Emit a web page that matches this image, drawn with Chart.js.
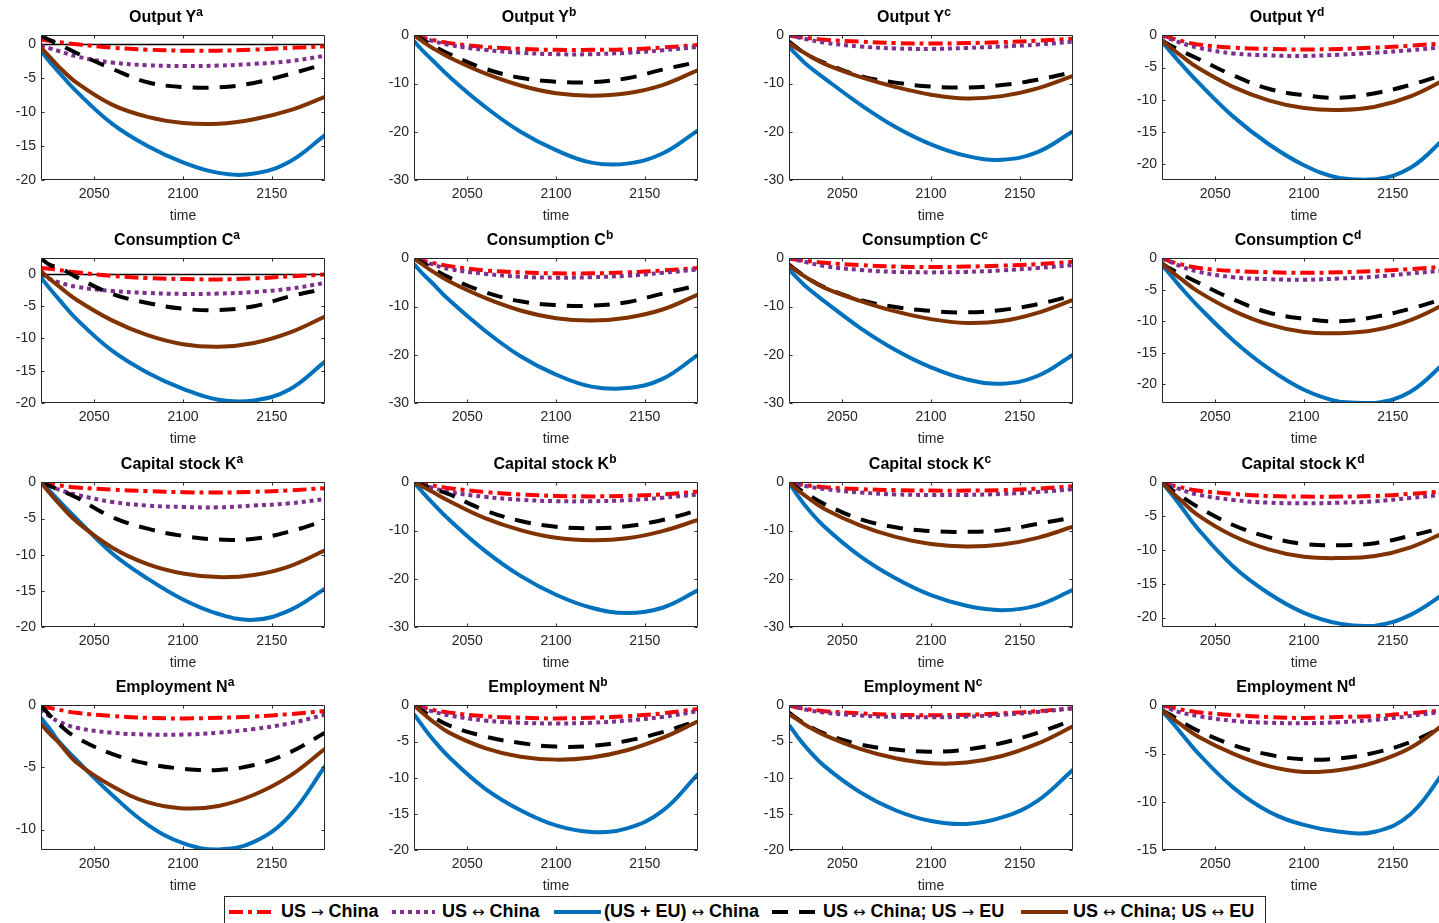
<!DOCTYPE html>
<html>
<head>
<meta charset="utf-8">
<script src="https://cdn.jsdelivr.net/npm/chart.js@4.4.1/dist/chart.umd.min.js"></script>
<style>
  html, body { margin: 0; padding: 0; background: #fff; width: 1439px; height: 923px; overflow: hidden;
    font-family: "Liberation Sans", Arial, Helvetica, sans-serif; }
  .panel { position: absolute; }
  .ttl { position: absolute; width: 300px; text-align: center; font-weight: bold; font-size: 16px;
    line-height: 18px; color: #000; white-space: nowrap; }
  .ttl sup { font-size: 12px; line-height: 0; }
  #legend { position: absolute; left: 224px; top: 896px; width: 1042px; height: 40px; box-sizing: border-box;
    border: 1px solid #262626; background: #fff; }
  #legend svg { position: absolute; left: 0; top: 0; }
  #legend span.lt { position: absolute; top: 4px; font-weight: bold; font-size: 18px; line-height: 21px; color: #000; white-space: nowrap; }
  #legend span.ar { font-family: "DejaVu Sans", sans-serif; font-weight: normal; font-size: 15px; }
</style>
</head>
<body>
<div id="legend"></div>
<script>
// Impulse responses, 4x4 panels (rows: Y, C, K, N; columns: a-d)

const years = [2020, 2025, 2030, 2040, 2060, 2080, 2100, 2120, 2140, 2160, 2180];
const xTicks = [2050, 2100, 2150];
const ticks5 = [-20, -15, -10, -5, 0];
const ticks10 = [-30, -20, -10, 0];
const ticksEmpA = [-10, -5, 0];
const ticksEmpD = [-15, -10, -5, 0];

const seriesLabels = ['US \u2192 China', 'US \u2194 China', '(US + EU) \u2194 China',
  'US \u2194 China; US \u2192 EU', 'US \u2194 China; US \u2194 EU'];

// series order in each panel: red, purple, blue, black, brown
const outputA = [
  [0.7, 0.5, 0.3, 0.0, -0.5, -0.8, -0.95, -0.95, -0.8, -0.55, -0.3],
  [-0.2, -0.6, -1.0, -1.8, -2.7, -3.1, -3.2, -3.15, -2.9, -2.5, -1.7],
  [-1.0, -2.6, -4.1, -6.95, -11.7, -15.0, -17.4, -18.95, -19.05, -17.3, -13.4],
  [1.3, 0.6, 0.0, -1.3, -3.6, -5.6, -6.3, -6.35, -5.7, -4.4, -2.9],
  [-0.5, -1.9, -3.3, -5.65, -8.9, -10.7, -11.6, -11.72, -11.05, -9.75, -7.75]
];
const outputB = [
  [0, -0.5, -0.9, -1.6, -2.4, -2.8, -3.0, -3.0, -2.9, -2.5, -2.0],
  [0, -0.6, -1.1, -2.0, -3.0, -3.6, -3.9, -3.9, -3.6, -3.1, -2.4],
  [-1.2, -3.2, -5.0, -8.6, -14.8, -20.0, -23.8, -26.4, -26.6, -24.5, -19.7],
  [0, -0.9, -2.0, -3.9, -6.9, -8.8, -9.6, -9.7, -8.9, -7.1, -5.5],
  [0, -1.3, -2.5, -4.6, -7.9, -10.4, -12.0, -12.5, -12.0, -10.3, -7.2]
];
const outputC = [
  [0, -0.3, -0.5, -0.9, -1.3, -1.6, -1.7, -1.6, -1.4, -1.1, -0.7],
  [0, -0.4, -0.8, -1.5, -2.3, -2.7, -2.8, -2.6, -2.3, -1.9, -1.3],
  [-2.4, -4.3, -6.1, -8.9, -14.3, -19.0, -22.6, -25.0, -25.8, -24.2, -19.9],
  [-1.3, -2.7, -4.0, -5.7, -8.4, -9.8, -10.6, -10.8, -10.3, -9.2, -7.6],
  [-1.6, -2.8, -3.9, -5.9, -8.6, -10.7, -12.3, -13.1, -12.6, -11.0, -8.4]
];
const outputD = [
  [0, -0.4, -0.8, -1.4, -1.9, -2.1, -2.2, -2.1, -1.9, -1.6, -1.2],
  [0, -0.6, -1.1, -1.9, -2.8, -3.1, -3.2, -3.0, -2.7, -2.3, -1.8],
  [-1.0, -2.6, -4.2, -7.2, -12.6, -16.9, -20.2, -22.2, -22.4, -20.6, -15.8],
  [-0.8, -1.6, -2.3, -3.6, -6.2, -8.3, -9.3, -9.7, -9.0, -7.7, -6.0],
  [-0.8, -1.9, -3.0, -5.0, -8.0, -10.1, -11.3, -11.6, -11.1, -9.5, -6.8]
];
const consA = [
  [0.9, 0.8, 0.6, 0.25, -0.3, -0.65, -0.8, -0.85, -0.7, -0.4, -0.1],
  [-0.2, -0.8, -1.3, -2.0, -2.65, -2.95, -3.1, -3.05, -2.8, -2.3, -1.4],
  [-0.6, -2.3, -3.9, -7.0, -11.9, -15.3, -17.8, -19.5, -19.6, -17.9, -13.6],
  [2.4, 1.4, 1.0, -0.5, -3.1, -4.5, -5.4, -5.6, -5.0, -3.5, -2.3],
  [0.4, -0.8, -1.9, -4.0, -7.2, -9.5, -10.9, -11.3, -10.7, -9.1, -6.6]
];
const consB = [
  [0, -0.5, -0.9, -1.6, -2.5, -2.9, -3.1, -3.1, -2.9, -2.5, -2.0],
  [0, -0.6, -1.2, -2.2, -3.2, -3.8, -4.0, -3.9, -3.6, -3.0, -2.3],
  [-1.2, -3.2, -5.0, -8.7, -15.0, -20.3, -24.1, -26.6, -26.9, -25.0, -20.0],
  [0, -0.9, -2.0, -4.0, -7.0, -8.9, -9.7, -9.8, -9.1, -7.3, -5.6],
  [0, -1.3, -2.6, -4.8, -8.2, -10.8, -12.4, -12.9, -12.3, -10.6, -7.5]
];
const consC = [
  [0, -0.3, -0.5, -0.9, -1.4, -1.7, -1.8, -1.7, -1.5, -1.2, -0.7],
  [0, -0.4, -0.8, -1.6, -2.4, -2.8, -2.9, -2.8, -2.5, -2.0, -1.4],
  [-2.3, -4.2, -6.0, -8.9, -14.4, -19.0, -22.6, -25.1, -26.0, -24.4, -20.0],
  [-1.3, -2.7, -4.0, -6.0, -8.6, -10.1, -10.9, -11.2, -10.7, -9.5, -7.7],
  [-1.5, -2.8, -4.0, -6.1, -8.8, -11.0, -12.6, -13.4, -13.0, -11.3, -8.6]
];
const consD = [
  [0, -0.5, -0.9, -1.5, -2.0, -2.2, -2.3, -2.2, -2.0, -1.7, -1.3],
  [0, -0.6, -1.2, -2.1, -3.0, -3.3, -3.4, -3.2, -2.9, -2.4, -1.9],
  [-1.1, -2.7, -4.4, -7.5, -13.0, -17.5, -20.9, -22.8, -23.0, -21.2, -16.4],
  [-0.8, -1.7, -2.4, -3.8, -6.5, -8.6, -9.6, -10.0, -9.3, -8.0, -6.3],
  [-0.8, -2.0, -3.1, -5.2, -8.3, -10.5, -11.7, -11.9, -11.4, -9.8, -7.2]
];
const capA = [
  [0, -0.2, -0.4, -0.7, -1.0, -1.2, -1.35, -1.4, -1.3, -1.1, -0.8],
  [0, -0.5, -1.0, -1.7, -2.7, -3.2, -3.4, -3.45, -3.2, -2.9, -2.3],
  [0, -1.2, -2.5, -5.0, -9.8, -13.3, -16.2, -18.2, -19.0, -17.7, -14.7],
  [0, -0.5, -1.0, -2.1, -4.8, -6.4, -7.4, -7.9, -7.8, -6.8, -5.3],
  [0, -1.5, -2.9, -5.4, -9.0, -11.3, -12.6, -13.1, -12.8, -11.6, -9.4]
];
const capB = [
  [0, -0.3, -0.6, -1.2, -2.0, -2.5, -2.8, -2.9, -2.8, -2.5, -1.9],
  [0, -0.6, -1.1, -2.0, -3.0, -3.6, -3.9, -3.9, -3.7, -3.2, -2.5],
  [0, -2.1, -4.1, -7.8, -14.2, -19.4, -23.3, -26.0, -27.1, -26.0, -22.4],
  [0, -0.6, -1.2, -2.5, -5.8, -8.0, -9.2, -9.5, -9.1, -7.8, -5.8],
  [0, -0.9, -1.9, -3.9, -7.4, -9.9, -11.5, -12.0, -11.6, -10.1, -7.8]
];
const capC = [
  [0, -0.3, -0.6, -1.0, -1.4, -1.6, -1.7, -1.7, -1.6, -1.3, -0.8],
  [0, -0.4, -0.8, -1.4, -2.1, -2.5, -2.6, -2.6, -2.4, -2.0, -1.4],
  [0, -2.8, -5.2, -9.2, -15.3, -19.9, -23.4, -25.6, -26.5, -25.5, -22.3],
  [0, -1.2, -2.4, -4.5, -7.6, -9.3, -10.1, -10.25, -9.9, -8.6, -7.3],
  [0, -1.6, -3.0, -5.5, -8.9, -11.3, -12.8, -13.3, -12.9, -11.5, -9.2]
];
const capD = [
  [0, -0.4, -0.7, -1.2, -1.7, -2.0, -2.1, -2.1, -2.0, -1.7, -1.3],
  [0, -0.5, -1.0, -1.8, -2.6, -3.0, -3.1, -3.0, -2.8, -2.3, -1.8],
  [0, -1.6, -3.3, -6.8, -12.4, -16.4, -19.3, -20.9, -21.2, -19.6, -16.3],
  [0, -1.0, -1.9, -3.6, -6.3, -8.1, -9.1, -9.3, -9.0, -7.9, -6.6],
  [0, -1.3, -2.5, -4.8, -7.9, -9.9, -11.0, -11.2, -10.9, -9.6, -7.3]
];
const empA = [
  [0, -0.2, -0.35, -0.6, -0.85, -1.0, -1.05, -1.0, -0.9, -0.7, -0.45],
  [-0.3, -0.9, -1.3, -1.8, -2.2, -2.35, -2.35, -2.2, -1.9, -1.45, -0.75],
  [-1.0, -1.9, -2.9, -4.4, -7.2, -9.6, -11.1, -11.6, -11.0, -8.9, -4.9],
  [0, -0.8, -1.5, -2.6, -3.9, -4.7, -5.1, -5.2, -4.8, -3.8, -2.2],
  [-1.5, -2.3, -3.0, -4.6, -6.5, -7.8, -8.3, -8.1, -7.2, -5.7, -3.5]
];
const empB = [
  [0, -0.3, -0.6, -1.0, -1.5, -1.7, -1.8, -1.7, -1.5, -1.1, -0.5],
  [0, -0.4, -0.8, -1.4, -2.1, -2.4, -2.5, -2.4, -2.1, -1.6, -0.8],
  [-1.2, -2.9, -4.5, -7.2, -11.5, -14.5, -16.6, -17.5, -17.0, -14.6, -9.5],
  [0, -0.8, -1.5, -2.8, -4.3, -5.2, -5.7, -5.6, -4.9, -3.7, -2.1],
  [0, -1.1, -2.1, -3.8, -5.9, -7.1, -7.5, -7.2, -6.2, -4.5, -2.2]
];
const empC = [
  [0, -0.3, -0.5, -0.8, -1.1, -1.3, -1.35, -1.3, -1.1, -0.8, -0.4],
  [0, -0.3, -0.6, -1.0, -1.4, -1.6, -1.65, -1.55, -1.3, -0.9, -0.4],
  [-2.7, -4.4, -5.9, -8.4, -12.0, -14.5, -16.0, -16.4, -15.5, -13.2, -8.9],
  [-1.0, -1.9, -2.7, -3.9, -5.4, -6.1, -6.4, -6.1, -5.2, -3.8, -2.0],
  [-1.2, -2.0, -2.8, -4.1, -6.0, -7.3, -8.0, -7.9, -7.0, -5.3, -2.9]
];
const empD = [
  [0, -0.2, -0.4, -0.7, -1.0, -1.2, -1.3, -1.2, -1.1, -0.8, -0.5],
  [0, -0.4, -0.7, -1.1, -1.6, -1.8, -1.85, -1.75, -1.5, -1.1, -0.6],
  [-0.6, -1.6, -2.7, -4.9, -8.5, -11.0, -12.4, -13.1, -13.1, -11.3, -6.6],
  [-0.5, -1.0, -1.6, -2.6, -4.1, -5.1, -5.6, -5.5, -4.9, -3.8, -2.1],
  [-0.5, -1.2, -1.9, -3.2, -5.0, -6.3, -6.9, -6.7, -5.9, -4.4, -1.8]
];

const panels = [
  { title: 'Output Y', sup: 'a', data: outputA, yMin: -20, yMax: 1.3, yTicks: ticks5 },
  { title: 'Output Y', sup: 'b', data: outputB, yMin: -30, yMax: 0, yTicks: ticks10 },
  { title: 'Output Y', sup: 'c', data: outputC, yMin: -30, yMax: 0, yTicks: ticks10 },
  { title: 'Output Y', sup: 'd', data: outputD, yMin: -22.5, yMax: 0, yTicks: ticks5 },
  { title: 'Consumption C', sup: 'a', data: consA, yMin: -20, yMax: 2.4, yTicks: ticks5 },
  { title: 'Consumption C', sup: 'b', data: consB, yMin: -30, yMax: 0, yTicks: ticks10 },
  { title: 'Consumption C', sup: 'c', data: consC, yMin: -30, yMax: 0, yTicks: ticks10 },
  { title: 'Consumption C', sup: 'd', data: consD, yMin: -23, yMax: 0, yTicks: ticks5 },
  { title: 'Capital stock K', sup: 'a', data: capA, yMin: -20, yMax: 0, yTicks: ticks5 },
  { title: 'Capital stock K', sup: 'b', data: capB, yMin: -30, yMax: 0, yTicks: ticks10 },
  { title: 'Capital stock K', sup: 'c', data: capC, yMin: -30, yMax: 0, yTicks: ticks10 },
  { title: 'Capital stock K', sup: 'd', data: capD, yMin: -21.4, yMax: 0, yTicks: ticks5 },
  { title: 'Employment N', sup: 'a', data: empA, yMin: -11.65, yMax: 0, yTicks: ticksEmpA },
  { title: 'Employment N', sup: 'b', data: empB, yMin: -20, yMax: 0, yTicks: ticks5 },
  { title: 'Employment N', sup: 'c', data: empC, yMin: -20, yMax: 0, yTicks: ticks5 },
  { title: 'Employment N', sup: 'd', data: empD, yMin: -15, yMax: 0, yTicks: ticksEmpD }
];

// styles
const seriesColors = ['#ff0000', '#7e2f8e', '#0072bd', '#000000', '#803300'];
const seriesDashes = [[14, 5, 4, 5], [4, 4], [], [16, 11], []];
const axisColor = '#262626';

// layout (px)
const colLeft = [41, 414, 789, 1162];
const rowTop = [32, 255, 479, 702];
const plotW = 284, plotH = 148;
const padL = 50, padT = 10, padR = 12, padB = 50;
const titleCenter = [125, 136, 141, 134];

Chart.defaults.font.family = '"Liberation Sans", Arial, Helvetica, sans-serif';
Chart.defaults.color = axisColor;

const frame = {
  id: 'frame',
  beforeDatasetsDraw(chart) {
    const { ctx, chartArea: a, scales: { y } } = chart;
    if (y.max > 0) {
      const py = Math.round(y.getPixelForValue(0)) + 0.5;
      ctx.save();
      ctx.strokeStyle = '#000';
      ctx.lineWidth = 1.5;
      ctx.beginPath();
      ctx.moveTo(a.left, py);
      ctx.lineTo(a.right, py);
      ctx.stroke();
      ctx.restore();
    }
  },
  afterDatasetsDraw(chart) {
    const { ctx, chartArea: a, scales: { x, y } } = chart;
    const L = Math.round(a.left) + 0.5, R = Math.round(a.right) - 0.5;
    const T = Math.round(a.top) + 0.5, B = Math.round(a.bottom) - 0.5;
    ctx.save();
    ctx.strokeStyle = axisColor;
    ctx.lineWidth = 1;
    ctx.beginPath();
    ctx.rect(L, T, R - L, B - T);
    x.ticks.forEach(t => {
      const px = Math.round(x.getPixelForValue(t.value)) + 0.5;
      ctx.moveTo(px, B); ctx.lineTo(px, B - 3);
      ctx.moveTo(px, T); ctx.lineTo(px, T + 3);
    });
    y.ticks.forEach(t => {
      const py = Math.round(y.getPixelForValue(t.value)) + 0.5;
      ctx.moveTo(L, py); ctx.lineTo(L + 3, py);
      ctx.moveTo(R, py); ctx.lineTo(R - 3, py);
    });
    ctx.stroke();
    ctx.restore();
  }
};

panels.forEach((p, i) => {
  const r = Math.floor(i / 4), c = i % 4;
  const box = document.createElement('div');
  box.className = 'panel';
  box.style.left = (colLeft[c] - padL) + 'px';
  box.style.top = (rowTop[r] - padT) + 'px';
  box.style.width = (plotW + padL + padR) + 'px';
  box.style.height = (plotH + padT + padB) + 'px';
  const cv = document.createElement('canvas');
  box.appendChild(cv);
  document.body.appendChild(box);

  const ttl = document.createElement('div');
  ttl.className = 'ttl';
  ttl.style.left = (colLeft[c] + titleCenter[r] - 150) + 'px';
  ttl.style.top = (rowTop[r] - 24) + 'px';
  ttl.innerHTML = p.title + '<sup>' + p.sup + '</sup>';
  document.body.appendChild(ttl);

  new Chart(cv, {
    type: 'line',
    data: {
      datasets: p.data.map((vals, k) => ({
        label: seriesLabels[k],
        data: years.map((yr, j) => ({ x: yr, y: vals[j] })),
        borderColor: seriesColors[k],
        borderDash: seriesDashes[k],
        borderWidth: 4,
        borderCapStyle: 'butt',
        pointRadius: 0,
        tension: 0.4,
        fill: false,
        order: 5 - k
      }))
    },
    options: {
      responsive: true,
      maintainAspectRatio: false,
      animation: false,
      events: [],
      layout: { padding: { left: 0, top: padT, right: padR, bottom: 0 } },
      plugins: { legend: { display: false }, tooltip: { enabled: false } },
      scales: {
        x: {
          type: 'linear', min: 2020, max: 2180,
          afterBuildTicks: s => { s.ticks = xTicks.map(v => ({ value: v })); },
          afterFit: s => { s.height = padB; },
          grid: { display: false, drawTicks: false },
          border: { display: false },
          ticks: { padding: 6, maxRotation: 0, font: { size: 14 }, color: axisColor, callback: v => String(v) },
          title: { display: true, text: 'time', font: { size: 14 }, color: axisColor, padding: { top: 0, bottom: 5 } }
        },
        y: {
          min: p.yMin, max: p.yMax,
          afterBuildTicks: s => { s.ticks = p.yTicks.map(v => ({ value: v })); },
          afterFit: s => { s.width = padL; },
          grid: { display: false, drawTicks: false },
          border: { display: false },
          ticks: { padding: 5, font: { size: 14 }, color: axisColor, callback: v => String(v) }
        }
      }
    },
    plugins: [frame]
  });
});

// legend
const legendSample = [[4, 51], [167, 210], [329, 376], [547, 594], [796, 843]];
const legendText = [56, 217, 379, 598, 848];
const lg = document.getElementById('legend');
let svg = '<svg width="1042" height="40">';
legendSample.forEach((s, k) => {
  svg += '<line x1="' + s[0] + '" y1="15" x2="' + s[1] + '" y2="15" stroke="' + seriesColors[k] +
    '" stroke-width="4" stroke-dasharray="' + (seriesDashes[k].length ? seriesDashes[k].join(' ') : 'none') + '"/>';
});
svg += '</svg>';
lg.innerHTML = svg;
seriesLabels.forEach((t, k) => {
  const sp = document.createElement('span');
  sp.className = 'lt';
  sp.style.left = legendText[k] + 'px';
  sp.innerHTML = t.replace(/([\u2192\u2194])/g, '<span class="ar">$1</span>');
  lg.appendChild(sp);
});
</script>
</body>
</html>
